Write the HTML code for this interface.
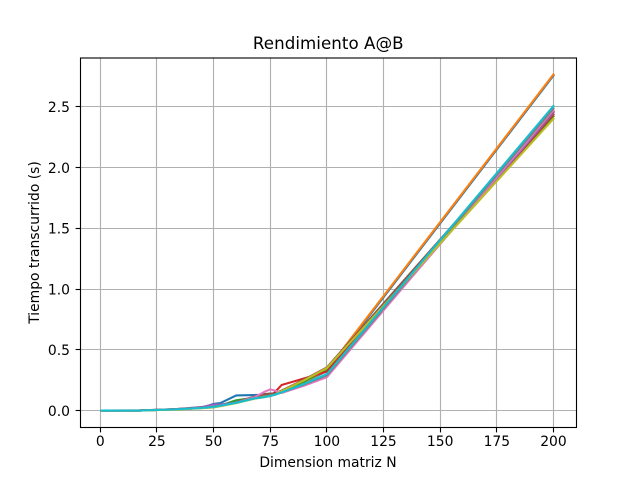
<!DOCTYPE html>
<html>
<head>
<meta charset="utf-8">
<style>
html,body{margin:0;padding:0;background:#fff;width:640px;height:480px;overflow:hidden}
svg{display:block}
text{font-family:"DejaVu Sans",sans-serif;fill:#000}
</style>
</head>
<body>
<svg id="chart" width="640" height="480" viewBox="0 0 640 480" xmlns="http://www.w3.org/2000/svg">
<rect x="0" y="0" width="640" height="480" fill="#fff"/>
<g id="grid"></g>
<g id="series"></g>
<rect x="80.5" y="58" width="496" height="369.5" fill="none" stroke="#000" stroke-width="1.11"/>
<g id="ticks"></g>
<text x="328.3" y="49" font-size="16.67" text-anchor="middle" letter-spacing="0.05">Rendimiento A@B</text>
<text x="328" y="467" font-size="13.89" text-anchor="middle">Dimension matriz N</text>
<text x="0" y="0" font-size="13.89" text-anchor="middle" transform="translate(39,242.5) rotate(-90)">Tiempo transcurrido (s)</text>
</svg>
<script>
const xTicks = [0, 25, 50, 75, 100, 125, 150, 175, 200];
const yTicks = [0, 0.5, 1, 1.5, 2, 2.5];
const yTickLabels = ['0.0', '0.5', '1.0', '1.5', '2.0', '2.5'];
const dimensions = [0.5, 17, 33, 45, 50, 53, 60, 68, 72, 75, 77, 80, 90, 100, 200];
const seriesNames = ['blue', 'orange', 'green', 'red', 'purple', 'brown', 'pink', 'gray', 'olive', 'cyan'];
const seriesColors = ['#1f77b4', '#ff7f0e', '#2ca02c', '#d62728', '#9467bd', '#8c564b', '#e377c2', '#7f7f7f', '#bcbd22', '#17becf'];
const blueTimes =   [0, 0, 0.012, 0.025, 0.055, 0.062, 0.125, 0.128, 0.13, 0.125, 0.135, 0.16, 0.235, 0.325, 2.755];
const orangeTimes = [0, 0, 0.01, 0.022, 0.032, 0.045, 0.07, 0.105, 0.12, 0.13, 0.14, 0.16, 0.235, 0.335, 2.765];
const greenTimes =  [0, 0, 0.01, 0.022, 0.03, 0.042, 0.085, 0.105, 0.115, 0.125, 0.135, 0.16, 0.24, 0.34, 2.42];
const redTimes =    [0, 0, 0.01, 0.022, 0.03, 0.04, 0.065, 0.1, 0.11, 0.125, 0.15, 0.21, 0.265, 0.32, 2.435];
const purpleTimes = [0, 0, 0.012, 0.03, 0.05, 0.05, 0.066, 0.1, 0.11, 0.12, 0.13, 0.15, 0.21, 0.29, 2.45];
const brownTimes =  [0, 0.002, 0.012, 0.024, 0.03, 0.04, 0.07, 0.115, 0.135, 0.14, 0.14, 0.165, 0.255, 0.355, 2.46];
const pinkTimes =   [0, 0, 0.01, 0.022, 0.03, 0.04, 0.066, 0.11, 0.15, 0.175, 0.165, 0.145, 0.205, 0.275, 2.47];
const grayTimes =   [0, 0, 0.01, 0.022, 0.03, 0.04, 0.066, 0.1, 0.115, 0.125, 0.13, 0.15, 0.215, 0.29, 2.485];
const oliveTimes =  [0, 0, 0.008, 0.02, 0.026, 0.036, 0.062, 0.098, 0.11, 0.12, 0.13, 0.16, 0.25, 0.35, 2.40];
const cyanTimes =   [0, 0, 0.01, 0.022, 0.03, 0.04, 0.064, 0.1, 0.11, 0.12, 0.13, 0.15, 0.22, 0.30, 2.505];
const allSeries = [blueTimes, orangeTimes, greenTimes, redTimes, purpleTimes, brownTimes, pinkTimes, grayTimes, oliveTimes, cyanTimes];

const NS = 'http://www.w3.org/2000/svg';
function xScale(v) { return 100.28 + v * 2.2659; }
function yScale(v) { return 410.6 - v * 121.6; }
function snap(p) { return Math.floor(p) + 0.5; }

const gridGroup = document.getElementById('grid');
const tickGroup = document.getElementById('ticks');
const seriesGroup = document.getElementById('series');

function makeLine(x1, y1, x2, y2, color) {
  const l = document.createElementNS(NS, 'line');
  l.setAttribute('x1', x1);
  l.setAttribute('y1', y1);
  l.setAttribute('x2', x2);
  l.setAttribute('y2', y2);
  l.setAttribute('stroke', color);
  l.setAttribute('stroke-width', '1.11');
  return l;
}
function makeLabel(x, y, anchor, str) {
  const t = document.createElementNS(NS, 'text');
  t.setAttribute('x', x);
  t.setAttribute('y', y);
  t.setAttribute('text-anchor', anchor);
  t.setAttribute('font-size', '13.89');
  t.textContent = str;
  return t;
}

xTicks.forEach(function (v) {
  const px = snap(xScale(v));
  const g = makeLine(px, 58, px, 427.5, '#b0b0b0');
  
  
  gridGroup.appendChild(g);
  const t = makeLine(px, 427.5, px, 432.4, '#000');
  
  
  tickGroup.appendChild(t);
  const lab = makeLabel(xScale(v), 446, 'middle', String(v));
  
  
  tickGroup.appendChild(lab);
});

yTicks.forEach(function (v, i) {
  const py = snap(yScale(v));
  const g = makeLine(80.5, py, 576.5, py, '#b0b0b0');
  
  
  gridGroup.appendChild(g);
  const t = makeLine(75.6, py, 80.5, py, '#000');
  
  
  tickGroup.appendChild(t);
  const lab = makeLabel(70, yScale(v) + 5.4, 'end', yTickLabels[i]);
  
  
  tickGroup.appendChild(lab);
});

allSeries.forEach(function (values, i) {
  const pts = values.map(function (v, j) {
    return xScale(dimensions[j]).toFixed(2) + ',' + yScale(v).toFixed(2);
  }).join(' ');
  const p = document.createElementNS(NS, 'polyline');
  p.setAttribute('points', pts);
  p.setAttribute('fill', 'none');
  p.setAttribute('stroke', seriesColors[i]);
  p.setAttribute('stroke-width', '2.08');
  p.setAttribute('stroke-linejoin', 'round');
  p.setAttribute('stroke-linecap', 'square');
  
  
  seriesGroup.appendChild(p);
});
</script>
</body>
</html>
